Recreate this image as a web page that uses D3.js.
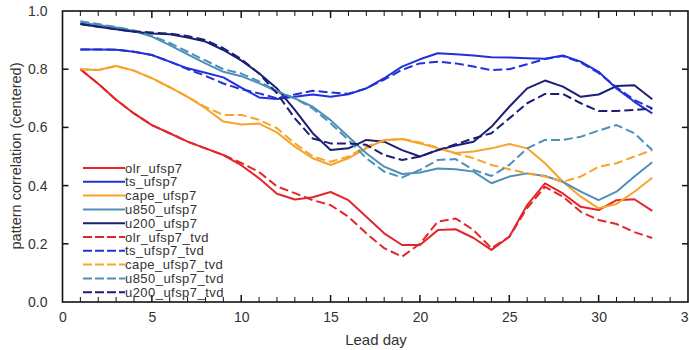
<!DOCTYPE html>
<html>
<head>
<meta charset="utf-8">
<script src="https://cdn.jsdelivr.net/npm/d3@7"></script>
<style>
html,body{margin:0;padding:0;background:#fff;}
svg{display:block;}
text{font-family:"Liberation Sans",Arial,Helvetica,sans-serif;fill:#333;}
</style>
</head>
<body>
<svg id="chart" width="689" height="350"></svg>
<script>
const days = d3.range(1, 34);
const seriesNames = ["olr_ufsp7","ts_ufsp7","cape_ufsp7","u850_ufsp7","u200_ufsp7",
  "olr_ufsp7_tvd","ts_ufsp7_tvd","cape_ufsp7_tvd","u850_ufsp7_tvd","u200_ufsp7_tvd"];
const colors = ["#e4262b","#2130d8","#f7a42a","#4e8fba","#1b1f73",
  "#e4262b","#2130d8","#f7a42a","#4e8fba","#1b1f73"];
const dashed = [false,false,false,false,false,true,true,true,true,true];
const xTicks = [0,5,10,15,20,25,30,35];
const yTicks = [0,0.2,0.4,0.6,0.8,1.0];

const olr = [0.80,0.75,0.695,0.648,0.608,0.58,0.551,0.528,0.505,0.47,0.425,0.372,0.352,0.36,0.378,0.35,0.293,0.236,0.196,0.196,0.247,0.25,0.22,0.179,0.224,0.333,0.408,0.373,0.327,0.316,0.35,0.353,0.313];
const ts = [0.868,0.868,0.867,0.86,0.849,0.826,0.803,0.788,0.772,0.737,0.703,0.698,0.705,0.713,0.705,0.714,0.734,0.769,0.809,0.834,0.855,0.851,0.847,0.841,0.84,0.838,0.836,0.847,0.826,0.791,0.734,0.688,0.648];
const cape = [0.80,0.797,0.811,0.795,0.769,0.738,0.705,0.666,0.62,0.61,0.613,0.583,0.534,0.494,0.471,0.494,0.528,0.557,0.56,0.545,0.528,0.512,0.517,0.528,0.543,0.528,0.477,0.413,0.362,0.322,0.337,0.379,0.427];
const u850 = [0.96,0.952,0.943,0.931,0.912,0.883,0.851,0.82,0.791,0.776,0.752,0.723,0.70,0.671,0.625,0.568,0.511,0.465,0.44,0.445,0.459,0.456,0.448,0.408,0.431,0.442,0.433,0.413,0.379,0.35,0.379,0.431,0.48];
const u200 = [0.955,0.946,0.937,0.929,0.923,0.92,0.909,0.895,0.866,0.83,0.786,0.734,0.66,0.58,0.522,0.528,0.557,0.551,0.522,0.50,0.522,0.538,0.551,0.602,0.671,0.734,0.761,0.74,0.705,0.713,0.742,0.745,0.697];
const olrTvd = [0.80,0.75,0.695,0.648,0.608,0.58,0.551,0.528,0.505,0.478,0.447,0.397,0.374,0.35,0.333,0.293,0.236,0.185,0.156,0.20,0.276,0.287,0.247,0.185,0.224,0.323,0.396,0.362,0.31,0.282,0.268,0.24,0.22];
const tsTvd = [0.868,0.868,0.867,0.86,0.849,0.826,0.80,0.777,0.751,0.731,0.717,0.70,0.713,0.726,0.72,0.716,0.734,0.764,0.798,0.82,0.826,0.82,0.809,0.797,0.80,0.817,0.835,0.845,0.823,0.787,0.738,0.694,0.665];
const capeTvd = [0.80,0.797,0.811,0.795,0.769,0.738,0.705,0.67,0.643,0.643,0.626,0.597,0.545,0.50,0.482,0.50,0.534,0.555,0.56,0.548,0.53,0.51,0.494,0.471,0.456,0.442,0.431,0.413,0.431,0.465,0.477,0.50,0.522];
const u850Tvd = [0.965,0.955,0.945,0.933,0.915,0.89,0.86,0.83,0.80,0.785,0.758,0.725,0.70,0.665,0.614,0.557,0.494,0.448,0.428,0.454,0.488,0.491,0.454,0.433,0.471,0.528,0.557,0.557,0.568,0.589,0.608,0.58,0.522];
const u200Tvd = [0.955,0.946,0.937,0.93,0.926,0.922,0.914,0.9,0.872,0.835,0.785,0.717,0.631,0.562,0.545,0.545,0.54,0.505,0.488,0.50,0.522,0.542,0.562,0.58,0.631,0.683,0.715,0.715,0.683,0.656,0.656,0.66,0.665];

const allSeries = [olr, ts, cape, u850, u200, olrTvd, tsTvd, capeTvd, u850Tvd, u200Tvd];

const svg = d3.select("#chart");
const L = 62.5, R = 688, T = 11, B = 302;
const x = d3.scaleLinear().domain([0,35]).range([L,R]);
const y = d3.scaleLinear().domain([0,1]).range([B,T]);

const dashArr = "9,4";

const line = d3.line().x((d,i)=>x(days[i])).y(d=>y(d));
const g = svg.append("g");
allSeries.forEach((s,k)=>{
  g.append("path").datum(s)
    .attr("d", line)
    .attr("fill","none")
    .attr("stroke", colors[k])
    .attr("stroke-width", 2)
    .attr("stroke-linejoin","round")
    .attr("stroke-dasharray", dashed[k] ? dashArr : null);
});

// inward ticks
const ax = svg.append("g").attr("stroke","#111").attr("stroke-width",1);
d3.range(1,35).forEach(v=>{
  const major = v % 5 === 0;
  const len = major ? 7 : 5;
  ax.append("line").attr("x1",x(v)).attr("x2",x(v)).attr("y1",B).attr("y2",B-len)
    .attr("stroke-width", major?1.5:1);
  ax.append("line").attr("x1",x(v)).attr("x2",x(v)).attr("y1",T).attr("y2",T+len)
    .attr("stroke-width", major?1.5:1);
});
yTicks.slice(1,-1).forEach(v=>{
  ax.append("line").attr("x1",L).attr("x2",L+6).attr("y1",y(v)).attr("y2",y(v)).attr("stroke-width",1.5);
  ax.append("line").attr("x1",R).attr("x2",R-6).attr("y1",y(v)).attr("y2",y(v)).attr("stroke-width",1.5);
});
svg.append("rect").attr("x",L).attr("y",T).attr("width",R-L).attr("height",B-T)
  .attr("fill","none").attr("stroke","#111").attr("stroke-width",1.6);

// tick labels
const xAxisG = svg.append("g").attr("transform",`translate(0,${B})`)
  .call(d3.axisBottom(x).tickValues(xTicks).tickSize(0).tickPadding(10).tickFormat(d3.format("d")));
xAxisG.select(".domain").remove();
xAxisG.selectAll("text").style("font-size","14px").style("fill","#333")
  .style("font-family","'Liberation Sans',Arial,sans-serif");

const yAxisG = svg.append("g").attr("transform",`translate(${L},0)`)
  .call(d3.axisLeft(y).tickValues(yTicks).tickSize(0).tickPadding(15).tickFormat(d3.format(".1f")));
yAxisG.select(".domain").remove();
yAxisG.selectAll("text").style("font-size","14px").style("fill","#333")
  .style("font-family","'Liberation Sans',Arial,sans-serif");

// axis titles
svg.append("text").attr("x", 376).attr("y", 345).attr("text-anchor","middle")
  .style("font-size","15px").text("Lead day");
svg.append("text").attr("transform","translate(21,156) rotate(-90)").attr("text-anchor","middle")
  .style("font-size","14.5px").text("pattern correlation (centered)");

// legend
const lg = svg.append("g");
seriesNames.forEach((n,k)=>{
  const yy = 168 + k*13.8;
  lg.append("line").attr("x1",83).attr("x2",125).attr("y1",yy).attr("y2",yy)
    .attr("stroke",colors[k]).attr("stroke-width",2)
    .attr("stroke-dasharray", dashed[k] ? "9,3" : null);
  lg.append("text").attr("x",125).attr("y",yy+4.5).style("font-size","13px")
    .style("letter-spacing","0.45px").text(n);
});
</script>
</body>
</html>
